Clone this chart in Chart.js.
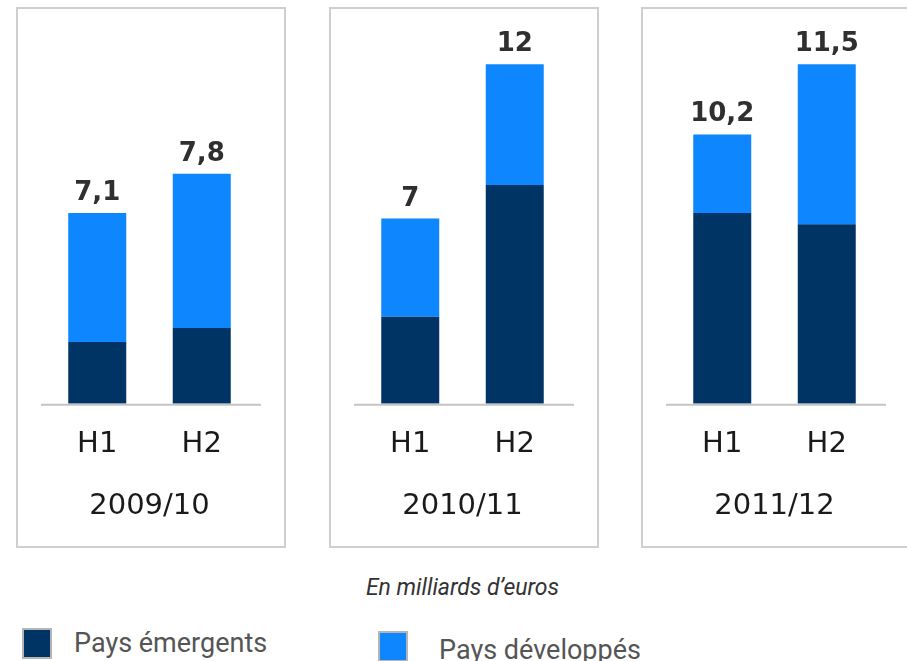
<!DOCTYPE html>
<html lang="fr">
<head>
    <meta charset="UTF-8">
    <title>Ventes par semestre</title>
    <script src="https://cdn.jsdelivr.net/npm/chart.js"></script>
    <style>
        body {
            margin: 0;
            background: #fff;
            width: 907px;
            height: 661px;
            overflow: hidden;
            position: relative;
            font-family: "DejaVu Sans", sans-serif;
        }
        .panel {
            position: absolute;
            top: 7px;
            width: 270px;
            height: 541px;
            border: 2px solid #cfcfcf;
            box-sizing: border-box;
        }
        .panel .cv {
            position: absolute;
            left: 0; top: 0; right: 0; bottom: 0;
        }
        #p0 { left: 16px; }
        #p1 { left: 329px; }
        #p2 { left: 641px; }
        .caption {
            position: absolute;
            left: 0;
            width: 925px;
            top: 574px;
            text-align: center;
            font-family: Roboto, sans-serif;
            font-style: italic;
            font-size: 23px;
            color: #333;
        }
        .legend-item {
            position: absolute;
            display: flex;
            align-items: center;
            font-family: Roboto, sans-serif;
            font-size: 27px;
            color: #555;
        }
        .legend-item .box {
            width: 30px;
            height: 31px;
            border: 2px solid #b5b5b5;
            box-sizing: border-box;
            margin-right: 22px;
        }
        .legend-item:nth-child(1) { left: 22px; top: 627px; }
        .legend-item:nth-child(2) { left: 378px; top: 630px; }
        .legend-item:nth-child(2) .box { margin-right: 31px; }
        .legend-item:nth-child(2) span { position: relative; top: 4px; }
    </style>
</head>
<body>
    <div class="panel" id="p0"><div class="cv"><canvas id="c0"></canvas></div></div>
    <div class="panel" id="p1"><div class="cv"><canvas id="c1"></canvas></div></div>
    <div class="panel" id="p2"><div class="cv"><canvas id="c2"></canvas></div></div>
    <div class="caption">En milliards d’euros</div>
    <div id="legend"></div>

    <script>
        // donnees (en milliards d'euros)
        const periods = ['2009/10', '2010/11', '2011/12'];
        const halves = ['H1', 'H2'];
        const emergents = [[2.2, 2.7], [3.1, 7.8], [6.8, 6.4]];
        const developpes = [[4.6, 5.5], [3.5, 4.3], [2.8, 5.7]];
        const totals = [[7.1, 7.8], [7, 12], [10.2, 11.5]];
        const seriesNames = ['Pays émergents', 'Pays développés'];
        const seriesColors = ['#003465', '#0e87fe'];

        // etiquettes des totaux au-dessus des barres + ligne de base
        const totalsPlugin = {
            id: 'totals',
            afterDatasetsDraw(chart, args, opts) {
                const ctx = chart.ctx;
                const area = chart.chartArea;
                ctx.save();
                ctx.strokeStyle = '#c4c4c4';
                ctx.lineWidth = 2;
                ctx.beginPath();
                ctx.moveTo(area.left - 4, area.bottom + 1);
                ctx.lineTo(area.right + 7, area.bottom + 1);
                ctx.stroke();

                const top = chart.getDatasetMeta(1);
                ctx.font = 'bold 26px "DejaVu Sans"';
                ctx.fillStyle = '#2f2f2f';
                ctx.textAlign = 'center';
                ctx.textBaseline = 'alphabetic';
                top.data.forEach((bar, i) => {
                    const txt = String(opts.values[i]).replace('.', ',');
                    ctx.fillText(txt, bar.x, bar.y - 13);
                });
                ctx.restore();
            }
        };

        const makePanel = (p) => {
            new Chart(document.getElementById('c' + p), {
                type: 'bar',
                data: {
                    labels: halves,
                    datasets: [
                        { label: seriesNames[0], data: emergents[p], backgroundColor: seriesColors[0] },
                        { label: seriesNames[1], data: developpes[p], backgroundColor: seriesColors[1] }
                    ]
                },
                options: {
                    responsive: true,
                    maintainAspectRatio: false,
                    animation: false,
                    events: [],
                    datasets: { bar: { categoryPercentage: 1, barPercentage: 0.555 } },
                    layout: { padding: { left: 27, right: 30, top: 30, bottom: 28 } },
                    plugins: {
                        legend: { display: false },
                        tooltip: { enabled: false },
                        totals: { values: totals[p] }
                    },
                    scales: {
                        x: {
                            stacked: true,
                            grid: { display: false },
                            border: { display: false },
                            ticks: {
                                color: '#1a1a1a',
                                font: { family: 'DejaVu Sans', size: 29, lineHeight: 1 },
                                padding: 18,
                                maxRotation: 0
                            },
                            title: {
                                display: true,
                                text: periods[p],
                                color: '#1a1a1a',
                                font: { family: 'DejaVu Sans', size: 29, lineHeight: 0.8 },
                                padding: { top: 18, bottom: 0 }
                            }
                        },
                        y: {
                            stacked: true,
                            display: false,
                            min: 0,
                            max: 13
                        }
                    }
                },
                plugins: [totalsPlugin]
            });
        };

        periods.forEach((_, p) => makePanel(p));

        const legend = document.getElementById('legend');
        seriesNames.forEach((name, i) => {
            const item = document.createElement('div');
            item.className = 'legend-item';
            item.innerHTML = '<div class="box" style="background:' + seriesColors[i] + '"></div><span>' + name + '</span>';
            legend.appendChild(item);
        });
    </script>
</body>
</html>
